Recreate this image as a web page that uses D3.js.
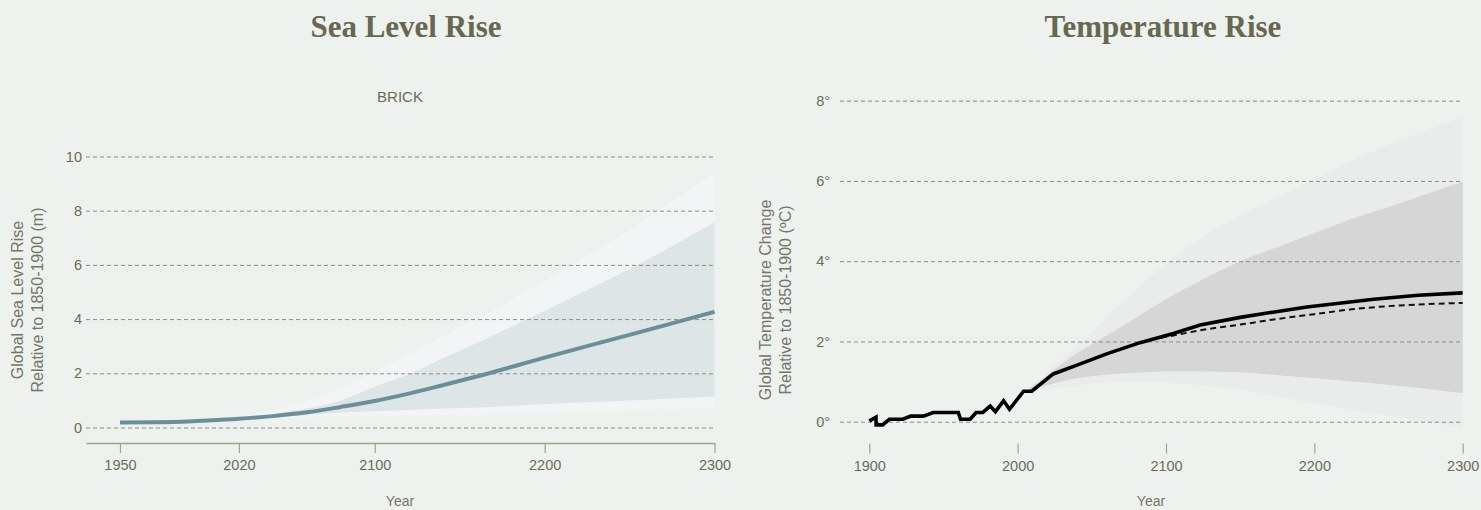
<!DOCTYPE html>
<html>
<head>
<meta charset="utf-8">
<script src="https://cdn.jsdelivr.net/npm/d3@7"></script>
<style>
  html, body { margin: 0; padding: 0; background: #eef2ee; }
  svg { display: block; }
  .tick text { font-family: "Liberation Sans", Arial, sans-serif; font-size: 14.5px; fill: #6c6c5a; }
</style>
</head>
<body>
<svg id="chart" width="1481" height="510"></svg>
<script>
// ---- Sea level rise (BRICK), metres relative to 1850-1900 ----
const seaYears  = [1950, 1970, 1990, 2000, 2020, 2040, 2060, 2080, 2100, 2120, 2140, 2160, 2200, 2250, 2300];
const seaMedian = [0.18, 0.19, 0.22, 0.25, 0.32, 0.42, 0.56, 0.76, 0.98, 1.25, 1.56, 1.88, 2.58, 3.42, 4.27];

const seaBandYears  = [2000, 2020, 2040, 2060, 2080, 2100, 2120, 2140, 2160, 2190, 2220, 2250, 2300];
const seaOuterHigh  = [0.26, 0.40, 0.65, 0.97, 1.45, 2.05, 2.70, 3.35, 4.00, 5.05, 6.15, 7.30, 9.40];
const seaInnerHigh  = [0.26, 0.35, 0.50, 0.70, 1.00, 1.50, 1.97, 2.55, 3.12, 4.00, 4.92, 5.85, 7.56];
const seaInnerLow   = [0.26, 0.30, 0.36, 0.45, 0.55, 0.60, 0.65, 0.70, 0.74, 0.83, 0.92, 1.00, 1.14];
const seaOuterLow   = [0.26, 0.28, 0.33, 0.38, 0.42, 0.43, 0.44, 0.45, 0.47, 0.53, 0.59, 0.64, 0.72];

const seaXTicks = [1950, 2020, 2100, 2200, 2300];
const seaYTicks = [0, 2, 4, 6, 8, 10];

// ---- Global temperature change, degrees C relative to 1850-1900 ----
const tempYears  = [1900, 1904.5, 1904.6, 1909, 1913.5, 1922.5, 1928, 1936.5, 1943, 1960, 1961.5, 1968,
                    1972, 1976.5, 1981.5, 1985, 1990.5, 1994.5, 2004, 2009.5, 2016.5, 2024, 2040, 2060,
                    2082.5, 2105, 2123, 2150, 2172, 2195, 2240, 2270, 2300];
const tempMedian = [0.02, 0.11, -0.08, -0.08, 0.06, 0.06, 0.14, 0.14, 0.23, 0.23, 0.06, 0.06,
                    0.23, 0.23, 0.39, 0.25, 0.52, 0.31, 0.76, 0.76, 0.97, 1.19, 1.41, 1.69,
                    1.97, 2.20, 2.41, 2.60, 2.73, 2.86, 3.05, 3.15, 3.21];

const tempAltYears = [2090, 2105, 2125, 2150, 2175, 2200, 2225, 2250, 2275, 2300];
const tempAlt      = [2.05, 2.15, 2.29, 2.42, 2.56, 2.68, 2.80, 2.88, 2.93, 2.96];

const tempBandYears = [2005, 2015, 2025, 2035, 2045, 2060, 2080, 2100, 2125, 2150, 2175, 2200, 2225, 2250, 2275, 2300];
const tempOuterHigh = [0.76, 1.05, 1.40, 1.72, 2.03, 2.60, 3.30, 3.95, 4.60, 5.15, 5.60, 6.05, 6.50, 6.90, 7.25, 7.60];
const tempInnerHigh = [0.76, 1.02, 1.30, 1.58, 1.82, 2.15, 2.60, 3.05, 3.55, 4.00, 4.35, 4.70, 5.05, 5.35, 5.67, 5.98];
const tempInnerLow  = [0.76, 0.86, 0.96, 1.05, 1.11, 1.17, 1.22, 1.25, 1.25, 1.23, 1.16, 1.08, 1.00, 0.92, 0.82, 0.71];
const tempOuterLow  = [0.76, 0.80, 0.84, 0.89, 0.93, 0.97, 1.00, 0.98, 0.90, 0.80, 0.63, 0.46, 0.30, 0.15, 0.00, -0.14];

const tempXTicks = [1900, 2000, 2100, 2200, 2300];
const tempYTicks = [0, 2, 4, 6, 8];

const svg = d3.select("#chart");
const titleColor = "#67684f";
const labelColor = "#75756a";
const gridColor = "#8e8d7b";
const axisColor = "#a3a292";

function band(years, lo, hi, x, y) {
  return d3.area()
    .x((d, i) => x(years[i]))
    .y0((d, i) => y(lo[i]))
    .y1((d, i) => y(hi[i]))
    .curve(d3.curveMonotoneX)(years);
}

function series(years, vals, x, y, curve) {
  return d3.line()
    .x((d, i) => x(years[i]))
    .y((d, i) => y(vals[i]))
    .curve(curve)(years);
}

function gridAxis(g, y, ticks, width, pad, fmt) {
  g.call(d3.axisLeft(y).tickValues(ticks).tickSize(-width).tickPadding(pad).tickFormat(fmt));
  g.select(".domain").remove();
  g.selectAll(".tick line")
    .attr("stroke", gridColor)
    .attr("stroke-width", 1)
    .attr("stroke-dasharray", "4,3");
}

function title(x, text) {
  svg.append("text")
    .attr("x", x).attr("y", 37)
    .attr("text-anchor", "middle")
    .attr("font-family", "'Liberation Serif', 'DejaVu Serif', serif")
    .attr("font-weight", "bold")
    .attr("font-size", 31)
    .attr("fill", titleColor)
    .text(text);
}

function yTitle(cx, cy, lines) {
  const t = svg.append("text")
    .attr("transform", `translate(${cx},${cy}) rotate(-90)`)
    .attr("text-anchor", "middle")
    .attr("font-family", "'Liberation Sans', Arial, sans-serif")
    .attr("font-size", 16)
    .attr("fill", labelColor);
  lines.forEach((s, i) => t.append("tspan").attr("x", 0).attr("y", i * 20).text(s));
}

function xTitle(x) {
  svg.append("text")
    .attr("x", x).attr("y", 506)
    .attr("text-anchor", "middle")
    .attr("font-family", "'Liberation Sans', Arial, sans-serif")
    .attr("font-size", 14)
    .attr("fill", labelColor)
    .text("Year");
}

// ================= Sea Level Rise =================
{
  const x = d3.scaleLinear().domain([1930, 2300]).range([86, 714.5]);
  const y = d3.scaleLinear().domain([0, 10]).range([427.5, 156.5]);
  const g = svg.append("g");

  // uncertainty ranges, drawn first so the grid shows through them
  g.append("path").attr("d", band(seaBandYears, seaOuterLow, seaOuterHigh, x, y)).attr("fill", "#f3f4f5");
  g.append("path").attr("d", band(seaBandYears, seaInnerLow, seaInnerHigh, x, y)).attr("fill", "#dde5e7");

  const grid = g.append("g").attr("transform", "translate(86,0)");
  gridAxis(grid, y, seaYTicks, 628.5, 4, d3.format("d"));

  g.append("path")
    .attr("d", series(seaYears, seaMedian, x, y, d3.curveMonotoneX))
    .attr("fill", "none")
    .attr("stroke", "#6a8f99")
    .attr("stroke-width", 4);

  const xa = g.append("g").attr("transform", "translate(0,443)")
    .call(d3.axisBottom(x).tickValues(seaXTicks).tickSize(10).tickSizeOuter(0).tickPadding(7).tickFormat(d3.format("d")));
  xa.select(".domain").attr("stroke", axisColor).attr("stroke-width", 1.5);
  xa.selectAll(".tick line").attr("stroke", axisColor).attr("stroke-width", 1.2);

  svg.append("text")
    .attr("x", 400).attr("y", 102)
    .attr("text-anchor", "middle")
    .attr("font-family", "'Liberation Sans', Arial, sans-serif")
    .attr("font-size", 15)
    .attr("fill", "#6c6c5a")
    .text("BRICK");

  title(406, "Sea Level Rise");
  yTitle(23, 300, ["Global Sea Level Rise", "Relative to 1850-1900 (m)"]);
  xTitle(400);
}

// ================= Temperature Rise =================
{
  const x = d3.scaleLinear().domain([1900, 2300]).range([869.3, 1462.7]);
  const y = d3.scaleLinear().domain([0, 8]).range([421.7, 100.7]);
  const g = svg.append("g");

  g.append("path").attr("d", band(tempBandYears, tempOuterLow, tempOuterHigh, x, y)).attr("fill", "#eaebeb");
  g.append("path").attr("d", band(tempBandYears, tempInnerLow, tempInnerHigh, x, y)).attr("fill", "#d6d6d6");

  const grid = g.append("g").attr("transform", "translate(840,0)");
  gridAxis(grid, y, tempYTicks, 622.7, 10, d => d + "°");

  g.append("path")
    .attr("d", series(tempAltYears, tempAlt, x, y, d3.curveMonotoneX))
    .attr("fill", "none")
    .attr("stroke", "#111")
    .attr("stroke-width", 2)
    .attr("stroke-dasharray", "6,4");

  g.append("path")
    .attr("d", series(tempYears, tempMedian, x, y, d3.curveLinear))
    .attr("fill", "none")
    .attr("stroke", "#000")
    .attr("stroke-width", 3.6)
    .attr("stroke-linejoin", "miter");

  const xa = g.append("g").attr("transform", "translate(0,443.5)")
    .call(d3.axisBottom(x).tickValues(tempXTicks).tickSize(10).tickSizeOuter(0).tickPadding(7).tickFormat(d3.format("d")));
  xa.select(".domain").remove();
  xa.selectAll(".tick line").attr("stroke", axisColor).attr("stroke-width", 1.2);

  title(1163, "Temperature Rise");
  yTitle(771, 300, ["Global Temperature Change", "Relative to 1850-1900 (ºC)"]);
  xTitle(1151);
}
</script>
</body>
</html>
